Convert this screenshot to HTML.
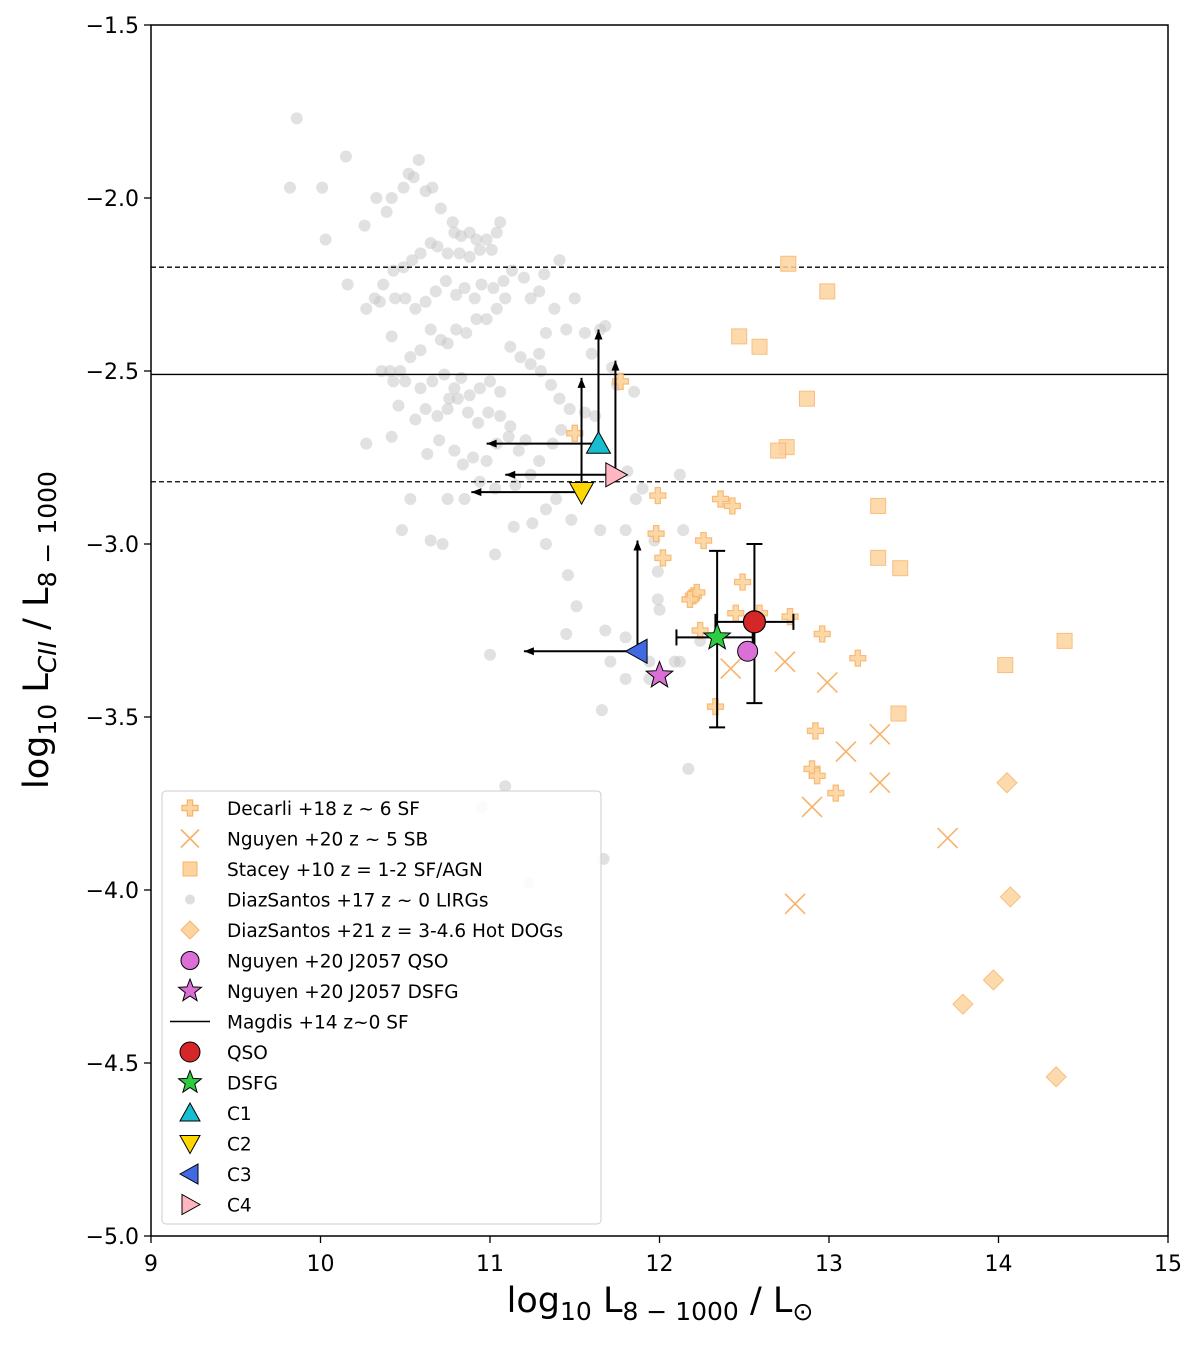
<!DOCTYPE html>
<html><head><meta charset="utf-8"><style>
body{margin:0;background:#fff;}
svg{display:block;font-family:"DejaVu Sans","Liberation Sans",sans-serif;}
</style></head><body>
<svg id="chart" width="1200" height="1346" viewBox="0 0 1200 1346"></svg>
<script>
const diazSantos17 = [[9.86,-1.77],[9.82,-1.97],[10.01,-1.97],[10.15,-1.88],[10.03,-2.12],[10.16,-2.25],[10.26,-2.08],[10.33,-2.00],[10.39,-2.04],[10.42,-2.00],[10.49,-1.97],[10.52,-1.93],[10.58,-1.89],[10.55,-1.94],[10.62,-1.98],[10.66,-1.97],[10.71,-2.03],[10.78,-2.07],[10.79,-2.10],[10.83,-2.11],[10.88,-2.10],[10.92,-2.12],[10.98,-2.12],[11.04,-2.10],[11.06,-2.07],[11.01,-2.15],[10.94,-2.15],[10.88,-2.17],[10.82,-2.16],[10.75,-2.16],[10.69,-2.14],[10.65,-2.13],[10.59,-2.16],[10.54,-2.18],[10.49,-2.20],[10.43,-2.21],[10.37,-2.25],[10.32,-2.29],[10.27,-2.32],[10.35,-2.30],[10.44,-2.29],[10.50,-2.29],[10.56,-2.32],[10.62,-2.30],[10.68,-2.27],[10.74,-2.24],[10.80,-2.28],[10.85,-2.26],[10.91,-2.29],[10.95,-2.25],[11.02,-2.26],[11.08,-2.24],[11.13,-2.21],[11.20,-2.23],[11.24,-2.29],[11.29,-2.27],[11.32,-2.22],[11.41,-2.18],[11.09,-2.29],[11.04,-2.32],[10.98,-2.35],[10.92,-2.35],[10.86,-2.39],[10.80,-2.38],[10.75,-2.42],[10.71,-2.41],[10.65,-2.38],[10.59,-2.44],[10.53,-2.46],[10.47,-2.50],[10.41,-2.50],[10.36,-2.50],[10.43,-2.53],[10.50,-2.53],[10.59,-2.55],[10.66,-2.53],[10.73,-2.51],[10.79,-2.55],[10.83,-2.52],[10.88,-2.57],[10.94,-2.55],[11.00,-2.53],[11.06,-2.56],[11.12,-2.43],[11.18,-2.46],[11.24,-2.48],[11.29,-2.45],[11.33,-2.39],[11.38,-2.32],[11.45,-2.38],[11.50,-2.29],[11.56,-2.39],[11.60,-2.45],[11.65,-2.38],[11.68,-2.37],[11.72,-2.49],[11.75,-2.54],[11.85,-2.56],[11.30,-2.50],[11.36,-2.54],[11.41,-2.58],[11.47,-2.61],[11.56,-2.62],[11.62,-2.63],[11.06,-2.63],[11.12,-2.66],[10.99,-2.62],[10.93,-2.65],[10.87,-2.62],[10.81,-2.58],[10.75,-2.61],[10.69,-2.63],[10.62,-2.61],[10.56,-2.64],[10.46,-2.60],[10.42,-2.69],[10.63,-2.74],[10.70,-2.70],[10.79,-2.73],[10.84,-2.77],[10.90,-2.75],[10.98,-2.76],[11.04,-2.71],[11.11,-2.69],[11.17,-2.73],[11.21,-2.70],[11.29,-2.76],[11.37,-2.71],[11.42,-2.67],[11.24,-2.80],[11.15,-2.83],[11.03,-2.84],[10.94,-2.82],[10.85,-2.87],[10.75,-2.87],[10.53,-2.87],[10.65,-2.99],[11.03,-3.03],[11.14,-2.95],[11.25,-2.94],[11.33,-3.00],[11.48,-2.93],[11.65,-2.96],[11.80,-2.96],[11.86,-2.87],[11.99,-3.08],[12.12,-2.80],[11.97,-2.99],[11.39,-2.87],[11.46,-3.09],[11.51,-3.18],[11.68,-3.25],[11.45,-3.26],[11.99,-3.16],[12.14,-2.96],[11.71,-3.34],[11.94,-3.34],[12.12,-3.34],[11.80,-3.39],[11.66,-3.48],[12.17,-3.65],[11.09,-3.70],[11.23,-3.98],[11.67,-3.91],[11.00,-3.32],[10.95,-3.76],[10.72,-3.00],[10.48,-2.96],[10.27,-2.71],[10.42,-2.40],[10.76,-2.58],[11.33,-2.90],[11.81,-2.79],[11.90,-2.84],[11.80,-3.27],[12.00,-3.19],[12.24,-3.28],[12.09,-3.34],[11.94,-3.39]];
const decarli18 = [[11.50,-2.68],[11.77,-2.53],[11.99,-2.86],[11.98,-2.97],[12.02,-3.04],[12.26,-2.99],[12.36,-2.87],[12.43,-2.89],[12.49,-3.11],[12.20,-3.15],[12.22,-3.14],[12.18,-3.16],[12.24,-3.25],[12.45,-3.20],[12.59,-3.20],[12.77,-3.21],[12.96,-3.26],[13.17,-3.33],[12.33,-3.47],[12.92,-3.54],[12.90,-3.65],[12.93,-3.67],[13.04,-3.72]];
const nguyen20SB = [[12.42,-3.36],[12.74,-3.34],[12.99,-3.40],[13.10,-3.60],[13.30,-3.55],[13.30,-3.69],[12.90,-3.76],[13.70,-3.85],[12.80,-4.04]];
const stacey10 = [[12.76,-2.19],[12.99,-2.27],[12.47,-2.40],[12.59,-2.43],[12.87,-2.58],[12.75,-2.72],[12.70,-2.73],[13.29,-2.89],[13.29,-3.04],[13.42,-3.07],[14.04,-3.35],[14.39,-3.28],[13.41,-3.49]];
const hotDogs = [[14.05,-3.69],[14.07,-4.02],[13.97,-4.26],[13.79,-4.33],[14.34,-4.54]];
const magdisLevels = [-2.51, -2.20, -2.82];
const xTicks = [9,10,11,12,13,14,15];
const yTicks = [-1.5,-2.0,-2.5,-3.0,-3.5,-4.0,-4.5,-5.0];
const qso = {x:12.56, y:-3.225, xlo:12.33, xhi:12.79, ylo:-3.46, yhi:-3.00};
const dsfg = {x:12.34, y:-3.27, xlo:12.10, xhi:12.55, ylo:-3.53, yhi:-3.02};
const nguyenQSO = [12.52,-3.31];
const nguyenDSFG = [12.00,-3.38];
const limits = [
 {name:'c1', x:11.64, y:-2.71, up:-2.38, left:10.98},
 {name:'c2', x:11.54, y:-2.85, up:-2.52, left:10.89},
 {name:'c4', x:11.74, y:-2.80, up:-2.47, left:11.09},
 {name:'c3', x:11.87, y:-3.31, up:-2.99, left:11.20}
];

const L=151,R=1168,T=25,B=1236;
const sx=v=>L+(v-9)/6*(R-L);
const sy=v=>T+(-1.5-v)/3.5*(B-T);
const svg=document.getElementById('chart');
const NS='http://www.w3.org/2000/svg';
function mk(tag,attrs,parent){const e=document.createElementNS(NS,tag);for(const k in attrs)e.setAttribute(k,attrs[k]);(parent||svg).appendChild(e);return e;}
const OR_F='#fdd49e', OR_S='#f7b36a';

function plusShape(cx,cy,s){const a=s*0.33;return `M${cx-a},${cy-s}H${cx+a}V${cy-a}H${cx+s}V${cy+a}H${cx+a}V${cy+s}H${cx-a}V${cy+a}H${cx-s}V${cy-a}H${cx-a}Z`;}
function triPath(cx,cy,s,dir){
 if(dir==='up')return `M${cx},${cy-s}L${cx+s},${cy+s*0.8}L${cx-s},${cy+s*0.8}Z`;
 if(dir==='down')return `M${cx},${cy+s}L${cx+s},${cy-s*0.8}L${cx-s},${cy-s*0.8}Z`;
 if(dir==='left')return `M${cx-s},${cy}L${cx+s*0.8},${cy-s}L${cx+s*0.8},${cy+s}Z`;
 return `M${cx+s},${cy}L${cx-s*0.8},${cy-s}L${cx-s*0.8},${cy+s}Z`;}
function starPath(cx,cy,r){let d='';for(let i=0;i<10;i++){const rr=i%2?r*0.42:r;const a=-Math.PI/2+i*Math.PI/5;d+=(i?'L':'M')+(cx+rr*Math.cos(a)).toFixed(1)+','+(cy+rr*Math.sin(a)).toFixed(1);}return d+'Z';}

const frame=mk('rect',{x:L,y:T,width:R-L,height:B-T,fill:'none',stroke:'#000','stroke-width':1.5});


const gG=mk('g',{});
diazSantos17.forEach(p=>{const c=mk('circle',{cx:sx(p[0]),cy:sy(p[1]),r:6,fill:'#c8c8c8','fill-opacity':0.55},gG);});

magdisLevels.forEach((v,i)=>{const l=mk('line',{x1:L,x2:R,y1:sy(v),y2:sy(v),stroke:'#000','stroke-width':1.3,'stroke-dasharray':i?'5,3':'none'});});

stacey10.forEach(p=>{const r=mk('rect',{x:sx(p[0])-7.5,y:sy(p[1])-7.5,width:15,height:15,fill:OR_F,stroke:OR_S,'stroke-width':1,opacity:0.85});});
hotDogs.forEach(p=>{const cx=sx(p[0]),cy=sy(p[1]);const r=mk('path',{d:`M${cx},${cy-10}L${cx+10},${cy}L${cx},${cy+10}L${cx-10},${cy}Z`,fill:OR_F,stroke:OR_S,'stroke-width':1,opacity:0.85});});
decarli18.forEach(p=>{const r=mk('path',{d:plusShape(sx(p[0]),sy(p[1]),8),fill:OR_F,stroke:OR_S,'stroke-width':1.2,opacity:0.9});});
nguyen20SB.forEach(p=>{const cx=sx(p[0]),cy=sy(p[1]);const r=mk('path',{d:`M${cx-10},${cy-10}L${cx+10},${cy+10}M${cx-10},${cy+10}L${cx+10},${cy-10}`,stroke:'#f7b36a','stroke-width':1.6,fill:'none'});});

function arrow(x1,y1,x2,y2,name){const g=mk('g',{});
 mk('line',{x1,y1,x2,y2,stroke:'#000','stroke-width':2},g);
 const dx=x2-x1,dy=y2-y1,len=Math.hypot(dx,dy),ux=dx/len,uy=dy/len,px=-uy,py=ux;
 mk('path',{d:`M${x2},${y2}L${x2-ux*10+px*4},${y2-uy*10+py*4}L${x2-ux*10-px*4},${y2-uy*10-py*4}Z`,fill:'#000'},g);}
limits.forEach(c=>{arrow(sx(c.x),sy(c.y),sx(c.x),sy(c.up),c.name+'-upper-arrow');arrow(sx(c.x),sy(c.y),sx(c.left),sy(c.y),c.name+'-left-arrow');});

function errbar(o,name){const g=mk('g',{stroke:'#000','stroke-width':2});
 const x=sx(o.x),y=sy(o.y);
 mk('line',{x1:sx(o.xlo),x2:sx(o.xhi),y1:y,y2:y},g);mk('line',{x1:x,x2:x,y1:sy(o.ylo),y2:sy(o.yhi)},g);
 [o.xlo,o.xhi].forEach(v=>mk('line',{x1:sx(v),x2:sx(v),y1:y-8,y2:y+8},g));
 [o.ylo,o.yhi].forEach(v=>mk('line',{x1:x-8,x2:x+8,y1:sy(v),y2:sy(v)},g));}
errbar(dsfg,'dsfg-errorbar');errbar(qso,'qso-errorbar');

let m;
m=mk('circle',{cx:sx(nguyenQSO[0]),cy:sy(nguyenQSO[1]),r:10,fill:'#da70d6',stroke:'#000','stroke-width':1});
m=mk('path',{d:starPath(sx(nguyenDSFG[0]),sy(nguyenDSFG[1]),14),fill:'#da70d6',stroke:'#000','stroke-width':1});
m=mk('path',{d:starPath(sx(dsfg.x),sy(dsfg.y),14),fill:'#2ecc40',stroke:'#000','stroke-width':1});
m=mk('circle',{cx:sx(qso.x),cy:sy(qso.y),r:11,fill:'#d62728',stroke:'#000','stroke-width':1.2});
const cStyle={c1:['up','#17becf'],c2:['down','#ffd700'],c3:['left','#4169e1'],c4:['right','#ffb6c1']};
limits.forEach(c=>{const s=cStyle[c.name];const e=mk('path',{d:triPath(sx(c.x),sy(c.y),12,s[0]),fill:s[1],stroke:'#000','stroke-width':1});});

xTicks.forEach(v=>{const x=sx(v);mk('line',{x1:x,x2:x,y1:B,y2:B+7,stroke:'#000','stroke-width':1.3});const t=mk('text',{x,y:B+35,'font-size':22,'text-anchor':'middle'});t.textContent=v;});
yTicks.forEach(v=>{const y=sy(v);mk('line',{x1:L-7,x2:L,y1:y,y2:y,stroke:'#000','stroke-width':1.3});const t=mk('text',{x:L-12,y:y+8,'font-size':22,'text-anchor':'end'});t.textContent='\u2212'+Math.abs(v).toFixed(1);});

let tt=mk('text',{x:660,y:1312,'font-size':35,'text-anchor':'middle'});tt.innerHTML='log<tspan font-size="25" dy="8">10</tspan><tspan dy="-8"> L</tspan><tspan font-size="25" dy="8">8 \u2212 1000</tspan><tspan dy="-8"> / L</tspan><tspan font-size="25" dy="8">\u2299</tspan>';

tt=mk('text',{x:0,y:0,'font-size':35,'text-anchor':'middle',transform:'translate(48,630) rotate(-90)'});tt.innerHTML='log<tspan font-size="25" dy="8">10</tspan><tspan dy="-8"> L</tspan><tspan font-size="25" dy="8" font-style="italic">CII</tspan><tspan dy="-8"> / L</tspan><tspan font-size="25" dy="8">8 \u2212 1000</tspan>';


const lg=mk('g',{});
mk('rect',{x:162,y:791,width:439,height:433,rx:4,fill:'#fff','fill-opacity':0.85,stroke:'#ccc'},lg);
const entries=['Decarli +18  z ~ 6 SF','Nguyen +20 z ~ 5 SB','Stacey +10  z = 1-2 SF/AGN','DiazSantos +17 z ~ 0 LIRGs','DiazSantos +21 z = 3-4.6 Hot DOGs','Nguyen +20 J2057 QSO','Nguyen +20 J2057 DSFG','Magdis +14 z~0 SF','QSO','DSFG','C1','C2','C3','C4'];
entries.forEach((txt,i)=>{const y=808+i*30.5,x=190;const g=mk('g',{},lg);
 switch(i){
 case 0:mk('path',{d:plusShape(x,y,8),fill:OR_F,stroke:OR_S,'stroke-width':1.2},g);break;
 case 1:mk('path',{d:`M${x-9},${y-9}L${x+9},${y+9}M${x-9},${y+9}L${x+9},${y-9}`,stroke:OR_S,'stroke-width':1.6},g);break;
 case 2:mk('rect',{x:x-7,y:y-7,width:14,height:14,fill:OR_F,stroke:OR_S},g);break;
 case 3:mk('circle',{cx:x,cy:y,r:5,fill:'#c8c8c8','fill-opacity':0.6},g);break;
 case 4:mk('path',{d:`M${x},${y-9}L${x+9},${y}L${x},${y+9}L${x-9},${y}Z`,fill:OR_F,stroke:OR_S},g);break;
 case 5:mk('circle',{cx:x,cy:y,r:9,fill:'#da70d6',stroke:'#000'},g);break;
 case 6:mk('path',{d:starPath(x,y,12),fill:'#da70d6',stroke:'#000'},g);break;
 case 7:mk('line',{x1:x-20,x2:x+20,y1:y,y2:y,stroke:'#000','stroke-width':1.5},g);break;
 case 8:mk('circle',{cx:x,cy:y,r:10,fill:'#d62728',stroke:'#000'},g);break;
 case 9:mk('path',{d:starPath(x,y,12),fill:'#2ecc40',stroke:'#000'},g);break;
 default:{const s=cStyle[['c1','c2','c3','c4'][i-10]];mk('path',{d:triPath(x,y,10,s[0]),fill:s[1],stroke:'#000'},g);}
 }
 const t=mk('text',{x:227,y:y+7,'font-size':18.5},g);t.textContent=txt;});
</script>
</body></html>
